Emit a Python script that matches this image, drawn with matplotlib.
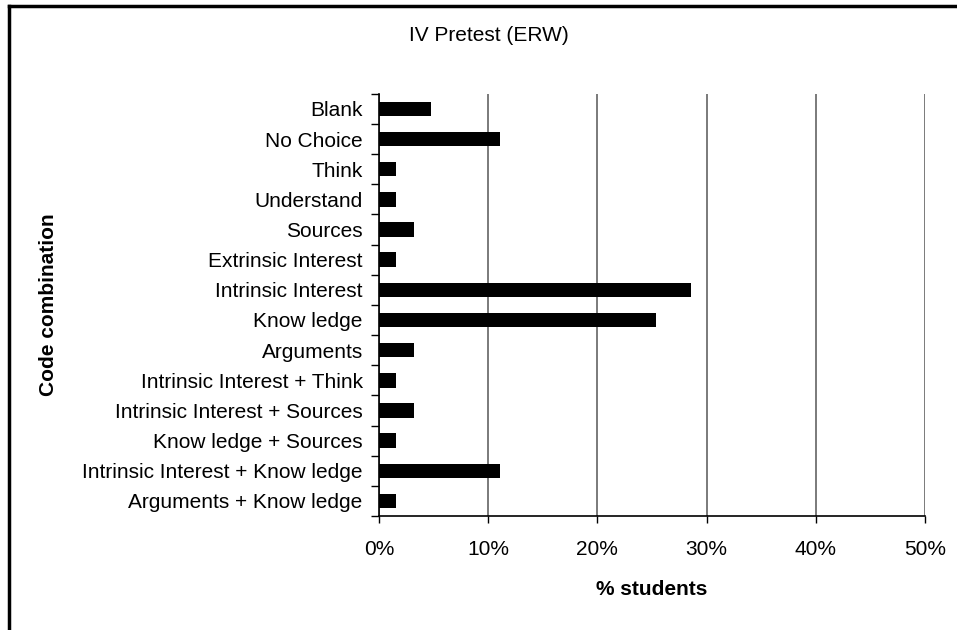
#!/usr/bin/env python3
"""
IV Pretest (ERW): share of students per code combination
"""
import matplotlib.pyplot as plt
import numpy as np
from matplotlib.lines import Line2D
from matplotlib.ticker import FixedLocator, PercentFormatter

plt.rcParams['font.family'] = ['Liberation Sans', 'DejaVu Sans']

categories = [
    'Blank', 'No Choice', 'Think', 'Understand', 'Sources',
    'Extrinsic Interest', 'Intrinsic Interest', 'Know ledge', 'Arguments',
    'Intrinsic Interest + Think', 'Intrinsic Interest + Sources',
    'Know ledge + Sources', 'Intrinsic Interest + Know ledge',
    'Arguments + Know ledge',
]
percent = [4.76, 11.1, 1.59, 1.59, 3.17, 1.59, 28.57, 25.4, 3.17,
           1.59, 3.17, 1.59, 11.1, 1.59]
x_ticks = [0, 10, 20, 30, 40, 50]

fig = plt.figure(figsize=(9.57, 6.30), dpi=100)
ax = fig.add_axes([0.396, 0.181, 0.5705, 0.670])

y = np.arange(len(categories))
ax.barh(y, percent, height=0.48, color='black', zorder=3)

ax.set_ylim(len(categories) - 0.5, -0.5)
ax.set_yticks(y)
ax.set_yticklabels(categories, fontsize=15)
ax.yaxis.set_minor_locator(FixedLocator(np.arange(-0.5, len(categories), 1.0)))
ax.tick_params(axis='y', which='major', length=0, pad=11.7)
ax.tick_params(axis='y', which='minor', length=6, width=1, color='black')

ax.set_xlim(0, 50)
ax.set_xticks(x_ticks)
ax.xaxis.set_major_formatter(PercentFormatter(decimals=0))
ax.tick_params(axis='x', length=5, width=1, labelsize=15, pad=12.5)
ax.grid(axis='x', color='#707070', linewidth=1.3, zorder=0)

for side in ['top', 'right']:
    ax.spines[side].set_visible(False)
for side in ['left', 'bottom']:
    ax.spines[side].set_linewidth(1.2)
    ax.spines[side].set_zorder(4)

ax.set_xlabel('% students', fontsize=15, fontweight='bold', labelpad=15)
ax.set_ylabel('Code combination', fontsize=15, fontweight='bold')
ax.yaxis.set_label_coords(-0.5875, 0.5)

fig.text(0.511, 0.944, 'IV Pretest (ERW)', fontsize=15, ha='center', va='center')

# outer frame (cut off on right and bottom)
fig.add_artist(Line2D([8.5 / 957, 1.0], [1 - 5.5 / 630, 1 - 5.5 / 630],
                      transform=fig.transFigure, color='black', linewidth=2.5))
fig.add_artist(Line2D([8.5 / 957, 8.5 / 957], [0, 1 - 5.5 / 630],
                      transform=fig.transFigure, color='black', linewidth=2.5))

plt.savefig('out.png', dpi=100, facecolor='white')
